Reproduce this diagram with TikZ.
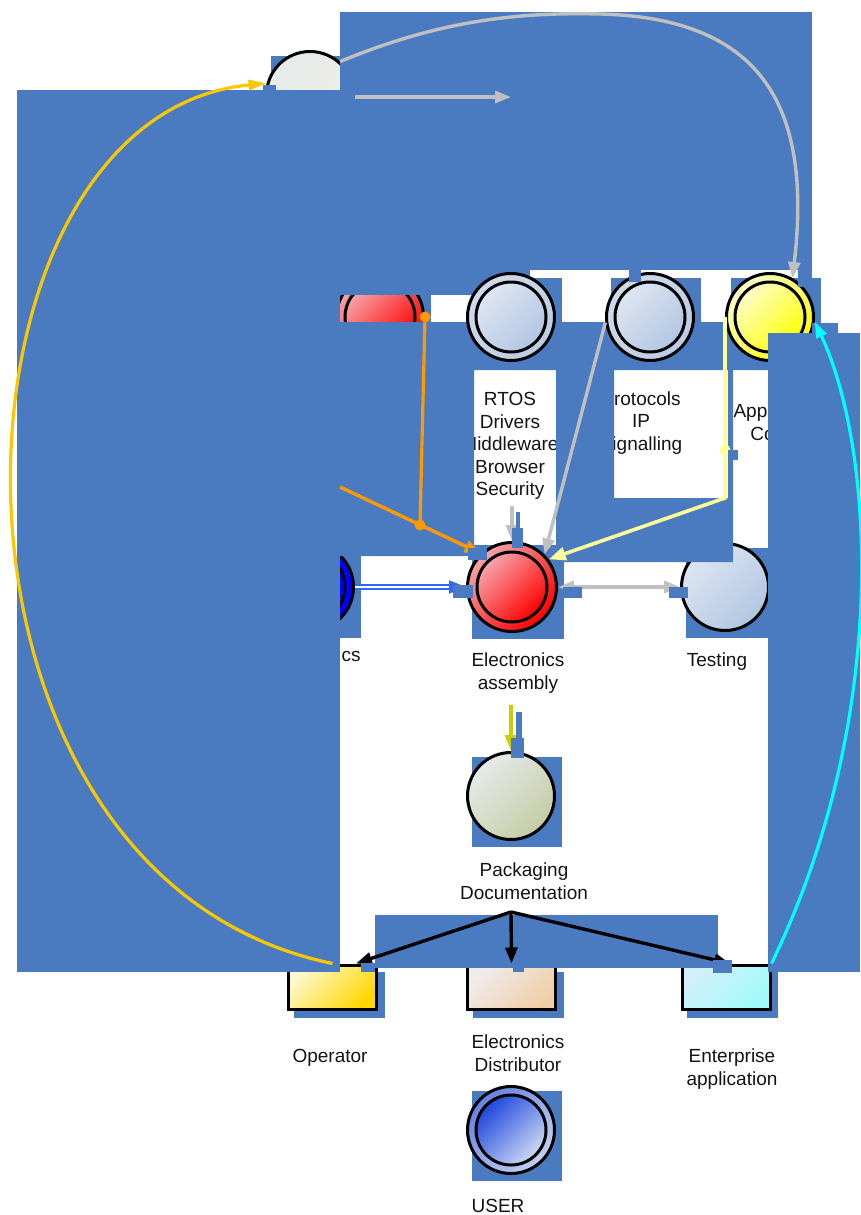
\documentclass[tikz,border=0pt]{standalone}
\usepackage{fontspec}
\setmainfont{Liberation Sans}
\usetikzlibrary{arrows.meta}

% panel and connector colours
\definecolor{panel}{RGB}{74,123,192}
\definecolor{wire}{RGB}{192,192,192}
\definecolor{gold}{RGB}{250,200,0}
\definecolor{amber}{RGB}{255,153,0}
\definecolor{paleyel}{RGB}{255,255,153}
\definecolor{aqua}{RGB}{0,255,255}
\definecolor{olivearr}{RGB}{204,204,0}
\definecolor{flow}{RGB}{51,102,255}
\definecolor{ink}{RGB}{20,20,20}
% node fills
\definecolor{topA}{RGB}{230,234,236}
\definecolor{topB}{RGB}{238,240,226}
\definecolor{redA}{RGB}{245,165,170}
\definecolor{redB}{RGB}{255,0,0}
\definecolor{ringA}{RGB}{208,218,234}
\definecolor{ringB}{RGB}{188,204,228}
\definecolor{skyA}{RGB}{222,230,242}
\definecolor{skyB}{RGB}{178,198,226}
\definecolor{yelA}{RGB}{252,252,200}
\definecolor{yelB}{RGB}{255,255,0}
\definecolor{deepblue}{RGB}{0,0,255}
\definecolor{packA}{RGB}{230,234,234}
\definecolor{packB}{RGB}{196,204,164}
\definecolor{uringA}{RGB}{100,130,225}
\definecolor{uringB}{RGB}{195,208,240}
\definecolor{userA}{RGB}{30,70,220}
\definecolor{userB}{RGB}{205,218,242}
\definecolor{opA}{RGB}{255,248,205}
\definecolor{opB}{RGB}{255,215,0}
\definecolor{distA}{RGB}{240,236,234}
\definecolor{distB}{RGB}{240,206,168}
\definecolor{entA}{RGB}{212,240,250}
\definecolor{entB}{RGB}{160,250,250}

% square drop shadow behind a round node: centre x, centre y, half size
\newcommand{\dropsquare}[3]{\fill[panel] ({#1-#3+6},{#2-#3+6}) rectangle ({#1+#3+6},{#2+#3+6});}

\begin{document}
\begin{tikzpicture}[x=1pt,y=-1pt,
  lbl/.style={font=\fontsize{19}{22.5}\selectfont, text=ink, align=center, inner sep=0pt},
  disc/.style={circle, draw=black, line width=3pt, inner sep=0pt, minimum size=87pt},
  core/.style={circle, draw=black, line width=3pt, inner sep=0pt, minimum size=70pt},
  card/.style={rectangle, draw=black, line width=3pt, inner sep=0pt, minimum width=88pt, minimum height=44pt},
  grad/.style 2 args={top color=#1, bottom color=#2, shading angle=45},
  link/.style={line width=3.4pt, -{Triangle[length=16pt,width=12pt]}},
  joint/.style={circle, fill=#1, inner sep=0pt, minimum size=11pt},
]
\fill[white] (0,0) rectangle (860,1215);
\useasboundingbox (0,0) rectangle (860,1215);

% ---- nodes lying under the panels ----
\dropsquare{310}{95}{45}
\node[disc, grad={topA}{topB}] (n-top) at (310,95) {};
\dropsquare{380}{317}{45}
\node[disc, grad={redA}{redB}] (n-redtop) at (380,317) {};
\node[core, grad={redA}{redB}] (n-redtop-core) at (380,317) {};
\dropsquare{310}{587}{45}
\node[disc, fill=deepblue] (n-cs) at (310,587) {};
\node[core, fill=deepblue] (n-cs-core) at (310,587) {};
\dropsquare{725}{587}{45}
\node[disc, grad={skyA}{skyB}] (n-test) at (725,587) {};

\fill[panel] (294,972) rectangle (385,1018);
\node[card, grad={opA}{opB}] (n-op) at (332.5,987) {};
\fill[panel] (473,972) rectangle (564,1018);
\node[card, grad={distA}{distB}] (n-dist) at (511.5,987) {};
\fill[panel] (687,972) rectangle (778,1018);
\node[card, grad={entA}{entB}] (n-ent) at (726,987) {};

% labels
\node[lbl] (l-rtos) at (510,446) {RTOS\\Drivers\\Middleware\\Browser\\Security};
\node[lbl] (l-prot) at (641,423) {Protocols\\IP\\Signalling};
\node[lbl] (l-app) at (780,422) {Application\\Code\hspace*{14pt}};
\node[lbl] (l-cs) at (351,656) {cs};
\node[lbl] (l-ea) at (518,673) {Electronics\\assembly};
\node[lbl] (l-test) at (717,662) {Testing};
\node[lbl] (l-pack) at (524,881) {Packaging\\Documentation};
\node[lbl] (l-op) at (330,1058) {Operator};
\node[lbl] (l-dist) at (518,1053) {Electronics\\Distributor};
\node[lbl] (l-ent) at (732,1069) {Enterprise\\application};
\node[lbl] (l-user) at (498,1206) {USER};

% ---- panels ----
\fill[panel] (340,12) rectangle (812,270);
\fill[panel] (17,90) rectangle (340,972);
\fill[panel] (340,270) rectangle (530,295);
\fill[panel, even odd rule]
  (340,322) -- (768,322) -- (768,370) -- (733,370) -- (733,562) -- (512,562)
  -- (512,556) -- (340,556) -- cycle
  (474,370) rectangle (556,545)
  (614,370) rectangle (728,498);
\fill[panel] (375,915) rectangle (718,968);

% ---- nodes lying over the panels ----
\dropsquare{511}{317}{45}
\node[disc, grad={ringA}{ringB}] (n-rtos) at (511,317) {};
\node[core, grad={skyA}{skyB}] (n-rtos-core) at (511,317) {};
\dropsquare{650}{317}{45}
\node[disc, grad={ringA}{ringB}] (n-prot) at (650,317) {};
\node[core, grad={skyA}{skyB}] (n-prot-core) at (650,317) {};
\dropsquare{770}{317}{45}
\node[disc, grad={yelA}{yelB}] (n-app) at (770,317) {};
\node[core, grad={yelA}{yelB}] (n-app-core) at (770,317) {};
\dropsquare{512}{587}{46}
\node[disc, minimum size=89pt, grad={redA}{redB}] (n-ea) at (512,587) {};
\node[core, grad={redA}{redB}] (n-ea-core) at (512,587) {};
\dropsquare{511}{796}{45}
\node[disc, grad={packA}{packB}] (n-pack) at (511,796) {};
\dropsquare{511}{1130}{45}
\node[disc, grad={uringA}{uringB}] (n-user) at (511,1130) {};
\node[core, grad={userA}{userB}] (n-user-core) at (511,1130) {};

% right-hand panel
\fill[panel] (768,333) rectangle (860,972);
\fill[panel] (812,323) rectangle (838,333);

% ---- connectors ----
\coordinate (g-a) at (355,97);
\coordinate (g-b) at (511,97);
\coordinate (r-s) at (512,506);
\coordinate (y-b) at (725,498);
\coordinate (o-s) at (340,487);
\coordinate (o-j) at (420,525);
\coordinate (ol-s) at (511,705);
\coordinate (fan) at (511,912);

\draw[link, wire] (n-top.48) .. controls (440,20) and (520,12) .. (600,14)
  .. controls (765,18) and (812,110) .. (n-app.60);
\draw[link, wire] (g-a) -- (g-b);
\draw[line width=3.2pt, gold, -{Triangle[length=18pt,width=10pt]}]
  (n-op.north) .. controls (-95,875) and (-70,115) .. (n-top.165);
\draw[line width=3.2pt, aqua, -{Triangle[length=16pt,width=11pt]}]
  (n-ent.north east) .. controls (890,720) and (875,450) .. (n-app.-6);

\draw[line width=3.2pt, amber] (n-redtop.east) -- (o-j);
\draw[link, amber] (o-s) -- (n-ea.133);
\node[joint=amber] (d-o1) at (n-redtop.east) {};
\node[joint=amber] (d-o2) at (o-j) {};

\draw[link, wire] (r-s) -- (n-ea.north);
\draw[link, wire] (n-prot.187) -- (n-ea.45);
\draw[line width=3.6pt, paleyel, -{Triangle[length=17pt,width=13pt]}]
  (n-app.west) -- (y-b) -- (n-ea.37);
\node[joint=paleyel] (d-y) at (725,450) {};

\draw[line width=1.8pt, flow, double=white, double distance=2pt,
  -{Triangle[length=17pt,width=13pt]}] (n-cs.east) -- (n-ea.west);
\draw[line width=3.4pt, wire, {Triangle[length=16pt,width=12pt]}-{Triangle[length=16pt,width=12pt]}]
  (n-ea.east) -- (n-test.west);
\draw[link, olivearr] (ol-s) -- (n-pack.north);

\draw[link, black] (fan) -- (n-op.45);
\draw[link, black] (fan) -- (n-dist.north);
\draw[link, black] (fan) -- (n-ent.80);

% ---- small connection markers ----
\fill[panel] (263,85) rectangle (276,91);
\fill[panel] (629,270) rectangle (641,282);
\fill[panel] (798,270) rectangle (812,287);
\fill[panel] (728,450) rectangle (738,460);
\fill[panel] (512,528) rectangle (523,548);
\fill[panel] (516,512) rectangle (520,528);
\fill[panel] (453,585) rectangle (473,598);
\fill[panel] (563,587) rectangle (582,598);
\fill[panel] (669,587) rectangle (688,598);
\fill[panel] (468,548) rectangle (487,560);
\fill[panel] (516,712) rectangle (522,740);
\fill[panel] (511,738) rectangle (524,758);
\fill[panel] (361,963) rectangle (375,972);
\fill[panel] (513,965) rectangle (524,972);
\fill[panel] (713,960) rectangle (732,973);
\end{tikzpicture}
\end{document}
